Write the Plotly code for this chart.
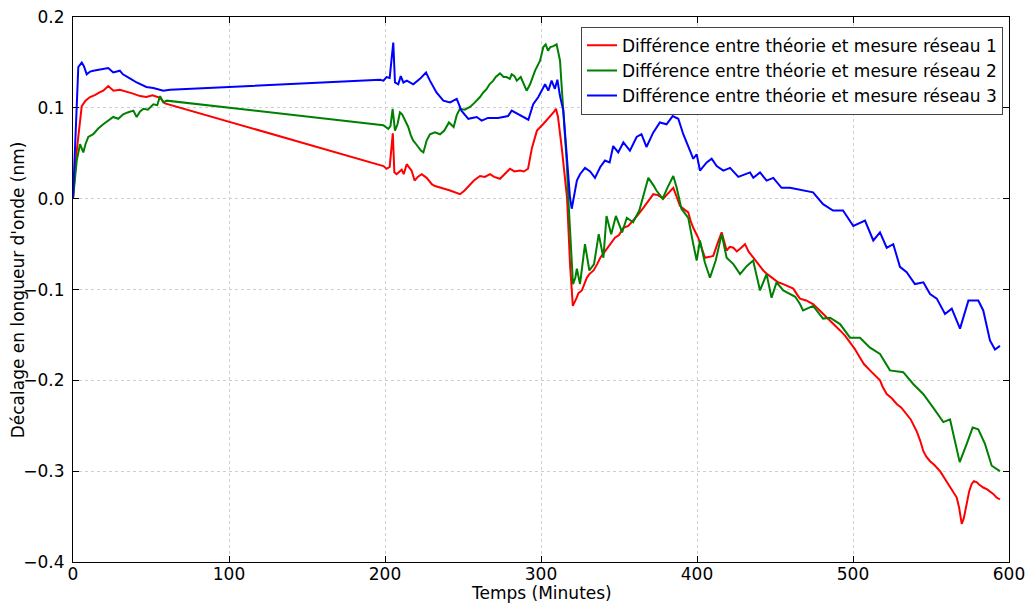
import plotly.graph_objects as go

# ---- Data (time in minutes, shift in nm) ----
t_r1 = [0, 2.4, 5.6, 8, 10.9, 14, 17, 19.4, 22.6, 26, 30, 34.4, 38, 43, 47, 51, 55.8, 59,
        199, 201, 203, 205, 206, 207.4, 209, 210.7, 212, 213.9, 217, 219, 221, 223.5, 226.7, 230,
        232, 235.3, 238, 241.7, 245, 248.1, 251, 254.5, 257, 260.9, 264, 267.3, 270, 273.7, 277,
        280.1, 283, 286.5, 289, 291.7, 294.2, 297.4, 301.3, 305.8, 308, 309.6, 310.9, 313.3, 316.7,
        318.6, 320.4, 322.9, 324, 326.2, 329.4, 331, 333.7, 336, 338, 342.3, 345, 347.4, 350, 352.8,
        356, 359.2, 362, 365.6, 369, 372, 375, 378.4, 381, 384.8, 387, 389.1, 392, 394.4, 396, 397.6,
        400.8, 403, 405.1, 408, 410.4, 413, 415.8, 419, 421, 423.3, 425.5, 427.6, 430.8, 433, 436.1,
        439, 442.5, 445, 448.9, 452, 455.3, 458, 461.7, 464, 466, 470, 474.4, 478, 481, 485.3, 488,
        491.7, 495, 498.1, 501, 504.5, 507, 510.9, 514, 517.3, 519, 521.6, 525, 528, 531, 534.4, 537,
        540.8, 543, 545.1, 547, 549.4, 552, 555.8, 559, 562.2, 564, 566.5, 568, 569.7, 571, 572.9,
        574.5, 576.1, 577.5, 579.2, 581, 583.5, 586, 589.9, 592, 594.2]
v_r1 = [0.0, 0.053, 0.102, 0.108, 0.112, 0.114, 0.117, 0.119, 0.124, 0.119, 0.120, 0.118, 0.116,
        0.113, 0.112, 0.114, 0.111, 0.105,
        0.036, 0.033, 0.035, 0.072, 0.029, 0.027, 0.030, 0.032, 0.027, 0.038, 0.031, 0.020, 0.024,
        0.027, 0.023, 0.016, 0.014, 0.012, 0.011, 0.009, 0.007, 0.005, 0.009, 0.016, 0.020, 0.025,
        0.024, 0.027, 0.024, 0.022, 0.028, 0.033, 0.030, 0.031, 0.030, 0.033, 0.056, 0.075, 0.082,
        0.090, 0.095, 0.099, 0.090, 0.056, 0.001, -0.072, -0.118, -0.109, -0.104, -0.101, -0.087,
        -0.083, -0.079, -0.072, -0.065, -0.055, -0.048, -0.043, -0.040, -0.032, -0.030, -0.024,
        -0.018, -0.010, -0.002, 0.005, 0.004, 0.000, 0.005, 0.012, 0.002, -0.008, -0.012, -0.015,
        -0.025, -0.032, -0.043, -0.055, -0.065, -0.064, -0.063, -0.050, -0.037, -0.057, -0.053,
        -0.054, -0.058, -0.055, -0.050, -0.058, -0.065, -0.072, -0.079, -0.083, -0.088, -0.092,
        -0.094, -0.096, -0.099, -0.105, -0.110, -0.112, -0.116, -0.122, -0.127, -0.134, -0.138,
        -0.145, -0.151, -0.158, -0.165, -0.175, -0.182, -0.189, -0.194, -0.200, -0.207, -0.215,
        -0.220, -0.226, -0.230, -0.237, -0.243, -0.256, -0.266, -0.278, -0.284, -0.289, -0.293,
        -0.300, -0.309, -0.318, -0.322, -0.329, -0.340, -0.358, -0.352, -0.336, -0.322, -0.314,
        -0.311, -0.312, -0.315, -0.318, -0.320, -0.325, -0.329, -0.331]

t_r2 = [0, 2.4, 4.5, 6.6, 8, 9.8, 13, 16, 19.4, 22, 25.8, 29, 32.2, 35, 38.7, 40.8, 43, 45.1, 48,
        51.5, 54, 55.8, 57.9, 60.1,
        198.9, 202.1, 203.5, 204.9, 206.4, 208, 209.6, 211, 212.8, 214.9, 216.5, 218.1, 220, 221.4,
        223, 224.6, 226.7, 228.8, 232, 235.3, 238, 241, 244, 246, 248, 251, 254.5, 257, 260.9, 263,
        265.2, 267, 269.4, 271, 273.7, 276, 277.9, 280, 281.2, 283, 284.5, 287, 288.5, 290.8, 293,
        296.2, 299.4, 301.5, 303, 304.5, 306, 308, 310, 312.2, 313, 314.3, 315.4, 316.5, 317.5,
        318.6, 319.7, 320.5, 322, 323, 325, 328.2, 331, 334, 337, 340, 342, 345, 348, 352, 355, 359,
        363, 366, 368.8, 372, 374, 378, 381, 384.8, 387, 390, 394.4, 397.6, 399.8, 401.9, 405,
        408.3, 412, 415.8, 419, 423.3, 427.6, 432, 436, 440.4, 444.6, 447.8, 451, 455.3, 459.6, 463,
        466, 468, 474.4, 480.8, 485.3, 491.7, 498.1, 504.5, 510.9, 517.3, 523.7, 532.2, 538.6, 545,
        551.4, 557.9, 562.2, 565.4, 568.4, 572.9, 576.7, 580.3, 584.6, 588.9, 594.2]
v_r2 = [0.0, 0.042, 0.060, 0.051, 0.060, 0.068, 0.071, 0.077, 0.082, 0.085, 0.090, 0.088, 0.093,
        0.095, 0.097, 0.090, 0.096, 0.099, 0.098, 0.104, 0.103, 0.113, 0.106, 0.108,
        0.081, 0.077, 0.080, 0.099, 0.075, 0.082, 0.095, 0.093, 0.086, 0.079, 0.070, 0.064, 0.060,
        0.057, 0.053, 0.051, 0.064, 0.071, 0.073, 0.071, 0.075, 0.084, 0.079, 0.092, 0.099, 0.098,
        0.101, 0.105, 0.112, 0.117, 0.121, 0.126, 0.130, 0.134, 0.138, 0.134, 0.134, 0.132, 0.137,
        0.135, 0.130, 0.134, 0.128, 0.119, 0.126, 0.141, 0.152, 0.167, 0.170, 0.163, 0.167, 0.168,
        0.170, 0.152, 0.130, 0.097, 0.075, 0.040, 0.001, -0.040, -0.072, -0.094, -0.087, -0.077,
        -0.094, -0.050, -0.079, -0.072, -0.039, -0.065, -0.019, -0.039, -0.019, -0.037, -0.021,
        -0.026, -0.013, 0.005, 0.023, 0.015, 0.009, 0.000, 0.012, 0.025, 0.012, -0.011, -0.021,
        -0.050, -0.068, -0.046, -0.070, -0.087, -0.068, -0.039, -0.065, -0.072, -0.083, -0.074,
        -0.068, -0.101, -0.083, -0.109, -0.092, -0.101, -0.105, -0.108, -0.116, -0.123, -0.118,
        -0.132, -0.131, -0.138, -0.153, -0.153, -0.164, -0.171, -0.189, -0.191, -0.204, -0.215,
        -0.230, -0.246, -0.243, -0.266, -0.290, -0.270, -0.252, -0.254, -0.270, -0.294, -0.300]

t_r3 = [0, 2.4, 3.4, 5.6, 7, 8.8, 11, 13, 16, 19.4, 22.6, 25.8, 29, 30, 32, 34.4, 37, 40.8, 44,
        47, 51.5, 54, 57.9, 62.2,
        196.8, 199, 201, 203, 205.3, 206.4, 208.5, 210.1, 211.8, 214, 218.1, 222.4, 226.3, 228.8,
        233, 237.4, 241.7, 246, 249, 253.4, 258.8, 262, 266, 272.5, 278.9, 281.2, 285.5, 291.9, 295,
        298.3, 302.6, 304.7, 306.8, 308.9, 310.5, 312.2, 314.3, 315.4, 316.5, 318.6, 319.7, 321.8,
        323, 325, 328.2, 331.5, 334.6, 338, 341, 344, 346.3, 349.5, 352.8, 357, 361.3, 364.4, 367.6,
        372, 376.2, 380.5, 384.4, 388, 391.2, 395.5, 397.6, 399.8, 401.9, 406.2, 409.4, 412.6,
        416.9, 421.2, 426.5, 434, 436.1, 440.4, 444.6, 448.9, 454.2, 459.6, 465, 474.4, 480.8,
        487.2, 493.6, 500.2, 507.7, 513, 517.3, 521.6, 525.8, 530.1, 534.4, 539.7, 545.1, 549.4,
        553.7, 559, 563.3, 568.6, 574, 577.2, 580.3, 583.5, 587.8, 591, 594.2]
v_r3 = [0.0, 0.097, 0.145, 0.150, 0.146, 0.137, 0.140, 0.141, 0.142, 0.143, 0.144, 0.139, 0.140,
        0.141, 0.137, 0.135, 0.132, 0.128, 0.125, 0.123, 0.122, 0.121, 0.119, 0.120,
        0.131, 0.130, 0.134, 0.133, 0.172, 0.128, 0.126, 0.135, 0.128, 0.130, 0.126, 0.132, 0.139,
        0.130, 0.117, 0.108, 0.106, 0.110, 0.097, 0.088, 0.090, 0.086, 0.089, 0.089, 0.091, 0.097,
        0.093, 0.087, 0.104, 0.112, 0.126, 0.119, 0.130, 0.121, 0.131, 0.113, 0.097, 0.075, 0.046,
        0.001, -0.011, 0.009, 0.020, 0.027, 0.034, 0.030, 0.023, 0.035, 0.042, 0.040, 0.058, 0.051,
        0.062, 0.053, 0.068, 0.071, 0.057, 0.073, 0.084, 0.082, 0.091, 0.088, 0.071, 0.053, 0.044,
        0.049, 0.031, 0.040, 0.044, 0.036, 0.031, 0.034, 0.024, 0.029, 0.023, 0.029, 0.020, 0.023,
        0.012, 0.012, 0.010, 0.007, -0.006, -0.013, -0.013, -0.030, -0.024, -0.046, -0.037, -0.054,
        -0.050, -0.075, -0.081, -0.094, -0.092, -0.105, -0.110, -0.127, -0.121, -0.143, -0.112,
        -0.112, -0.112, -0.123, -0.156, -0.166, -0.162]

names = ["Différence entre théorie et mesure réseau 1",
         "Différence entre théorie et mesure réseau 2",
         "Différence entre théorie et mesure réseau 3"]
colors = ["#ff0000", "#008000", "#0000ff"]

x_ticks = [0, 100, 200, 300, 400, 500, 600]
y_ticks = [-0.4, -0.3, -0.2, -0.1, 0.0, 0.1, 0.2]
x_title = "Temps (Minutes)"
y_title = "Décalage en longueur d'onde (nm)"

fig = go.Figure()
for t, v, n, c in zip([t_r1, t_r2, t_r3], [v_r1, v_r2, v_r3], names, colors):
    fig.add_trace(go.Scatter(x=t, y=v, mode="lines", name=n,
                             line=dict(color=c, width=2)))

font_family = "DejaVu Sans"
FS = 17
axis_common = dict(
    showline=True, linecolor="#000000", linewidth=1, mirror="allticks",
    ticks="inside", ticklen=6, tickcolor="#000000",
    showgrid=True, gridcolor="#cfcfcf", griddash="dot", gridwidth=1,
    zeroline=False, automargin=False,
    tickfont=dict(size=FS, color="#000000", family=font_family),
)

fig.update_layout(
    width=1029, height=604,
    margin=dict(l=73, r=20, t=17, b=42),
    paper_bgcolor="white", plot_bgcolor="white",
    font=dict(family=font_family, color="#000000"),
    xaxis=dict(range=[0, 600], tickvals=x_ticks, ticktext=[str(v) for v in x_ticks],
               ticklabelstandoff=-3,
               **axis_common),
    yaxis=dict(range=[-0.4, 0.2001], tickvals=y_ticks,
               ticktext=[("\u2212" if v < 0 else "") + f"{abs(v):.1f}" for v in y_ticks],
               ticklabelstandoff=4,
               **axis_common),
    legend=dict(x=0.9936, y=0.982, xanchor="right", yanchor="top",
                bgcolor="white", bordercolor="#444444", borderwidth=1,
                font=dict(size=FS, family=font_family), tracegroupgap=0),
    showlegend=True,
    annotations=[
        dict(text=x_title, xref="paper", yref="paper", x=0.5, y=-0.056,
             xanchor="center", yanchor="middle", showarrow=False,
             font=dict(size=FS, family=font_family, color="#000000")),
        dict(text=y_title, xref="paper", yref="paper", x=-0.059, y=0.5,
             xanchor="center", yanchor="middle", showarrow=False, textangle=-90,
             font=dict(size=FS, family=font_family, color="#000000")),
    ],
)

# Remove the default page margin so the figure sits at the window's top-left corner.
fig.write_html("out.html", config={"displayModeBar": False},
               post_script="document.body.style.margin='0';document.body.style.overflow='hidden';")
